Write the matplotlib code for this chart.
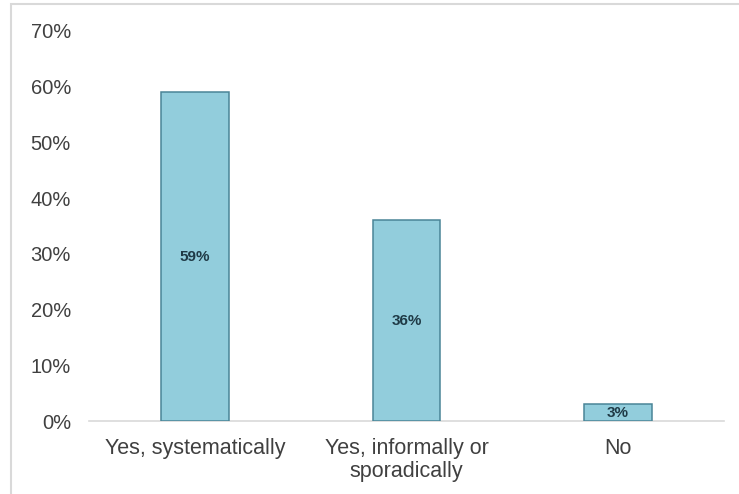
import matplotlib
matplotlib.use("Agg")
import matplotlib.pyplot as plt
from matplotlib.patches import Rectangle
from matplotlib.ticker import FuncFormatter

categories = ["Yes, systematically", "Yes, informally or\nsporadically", "No"]
values = [0.59, 0.36, 0.03]
labels = ["59%", "36%", "3%"]
yticks = [0, 0.1, 0.2, 0.3, 0.4, 0.5, 0.6, 0.7]

plt.rcParams['font.family'] = ['Liberation Sans', 'DejaVu Sans']

W, H = 739, 494
fig = plt.figure(figsize=(W / 100, H / 100), dpi=100)
fig.patch.set_facecolor("white")

# light frame around the chart
fig.patches.append(Rectangle((11 / W, -0.01), 1.0, 1 - 3.5 / H + 0.01,
                             transform=fig.transFigure, fill=False,
                             edgecolor="#d9d9d9", linewidth=1.5))

ax = fig.add_axes([89 / W, 73 / H, 635 / W, 390 / H])
x = range(len(categories))
ax.bar(x, values, width=0.32, color="#92cddc", edgecolor="#4a8597", linewidth=1.1, zorder=3)

for xi, v, lab in zip(x, values, labels):
    ax.text(xi, v / 2, lab, ha="center", va="center", fontsize=11,
            fontweight="bold", color="#1f3a46", zorder=4)

ax.set_xlim(-0.5, len(categories) - 0.5)
ax.set_ylim(0, 0.7)
ax.set_yticks(yticks)
ax.yaxis.set_major_formatter(FuncFormatter(lambda v, p: f"{v*100:.0f}%"))
ax.set_xticks(list(x))
ax.set_xticklabels(categories)

for s in ["top", "right", "left"]:
    ax.spines[s].set_visible(False)
ax.spines["bottom"].set_color("#d9d9d9")
ax.spines["bottom"].set_linewidth(1.2)
ax.tick_params(axis="y", length=0, labelsize=14.5, colors="#404040", pad=13)
ax.tick_params(axis="x", length=0, labelsize=15.5, colors="#404040", pad=12)
for t in ax.get_xticklabels():
    t.set_linespacing(1.15)

fig.savefig("out.png", dpi=100)
